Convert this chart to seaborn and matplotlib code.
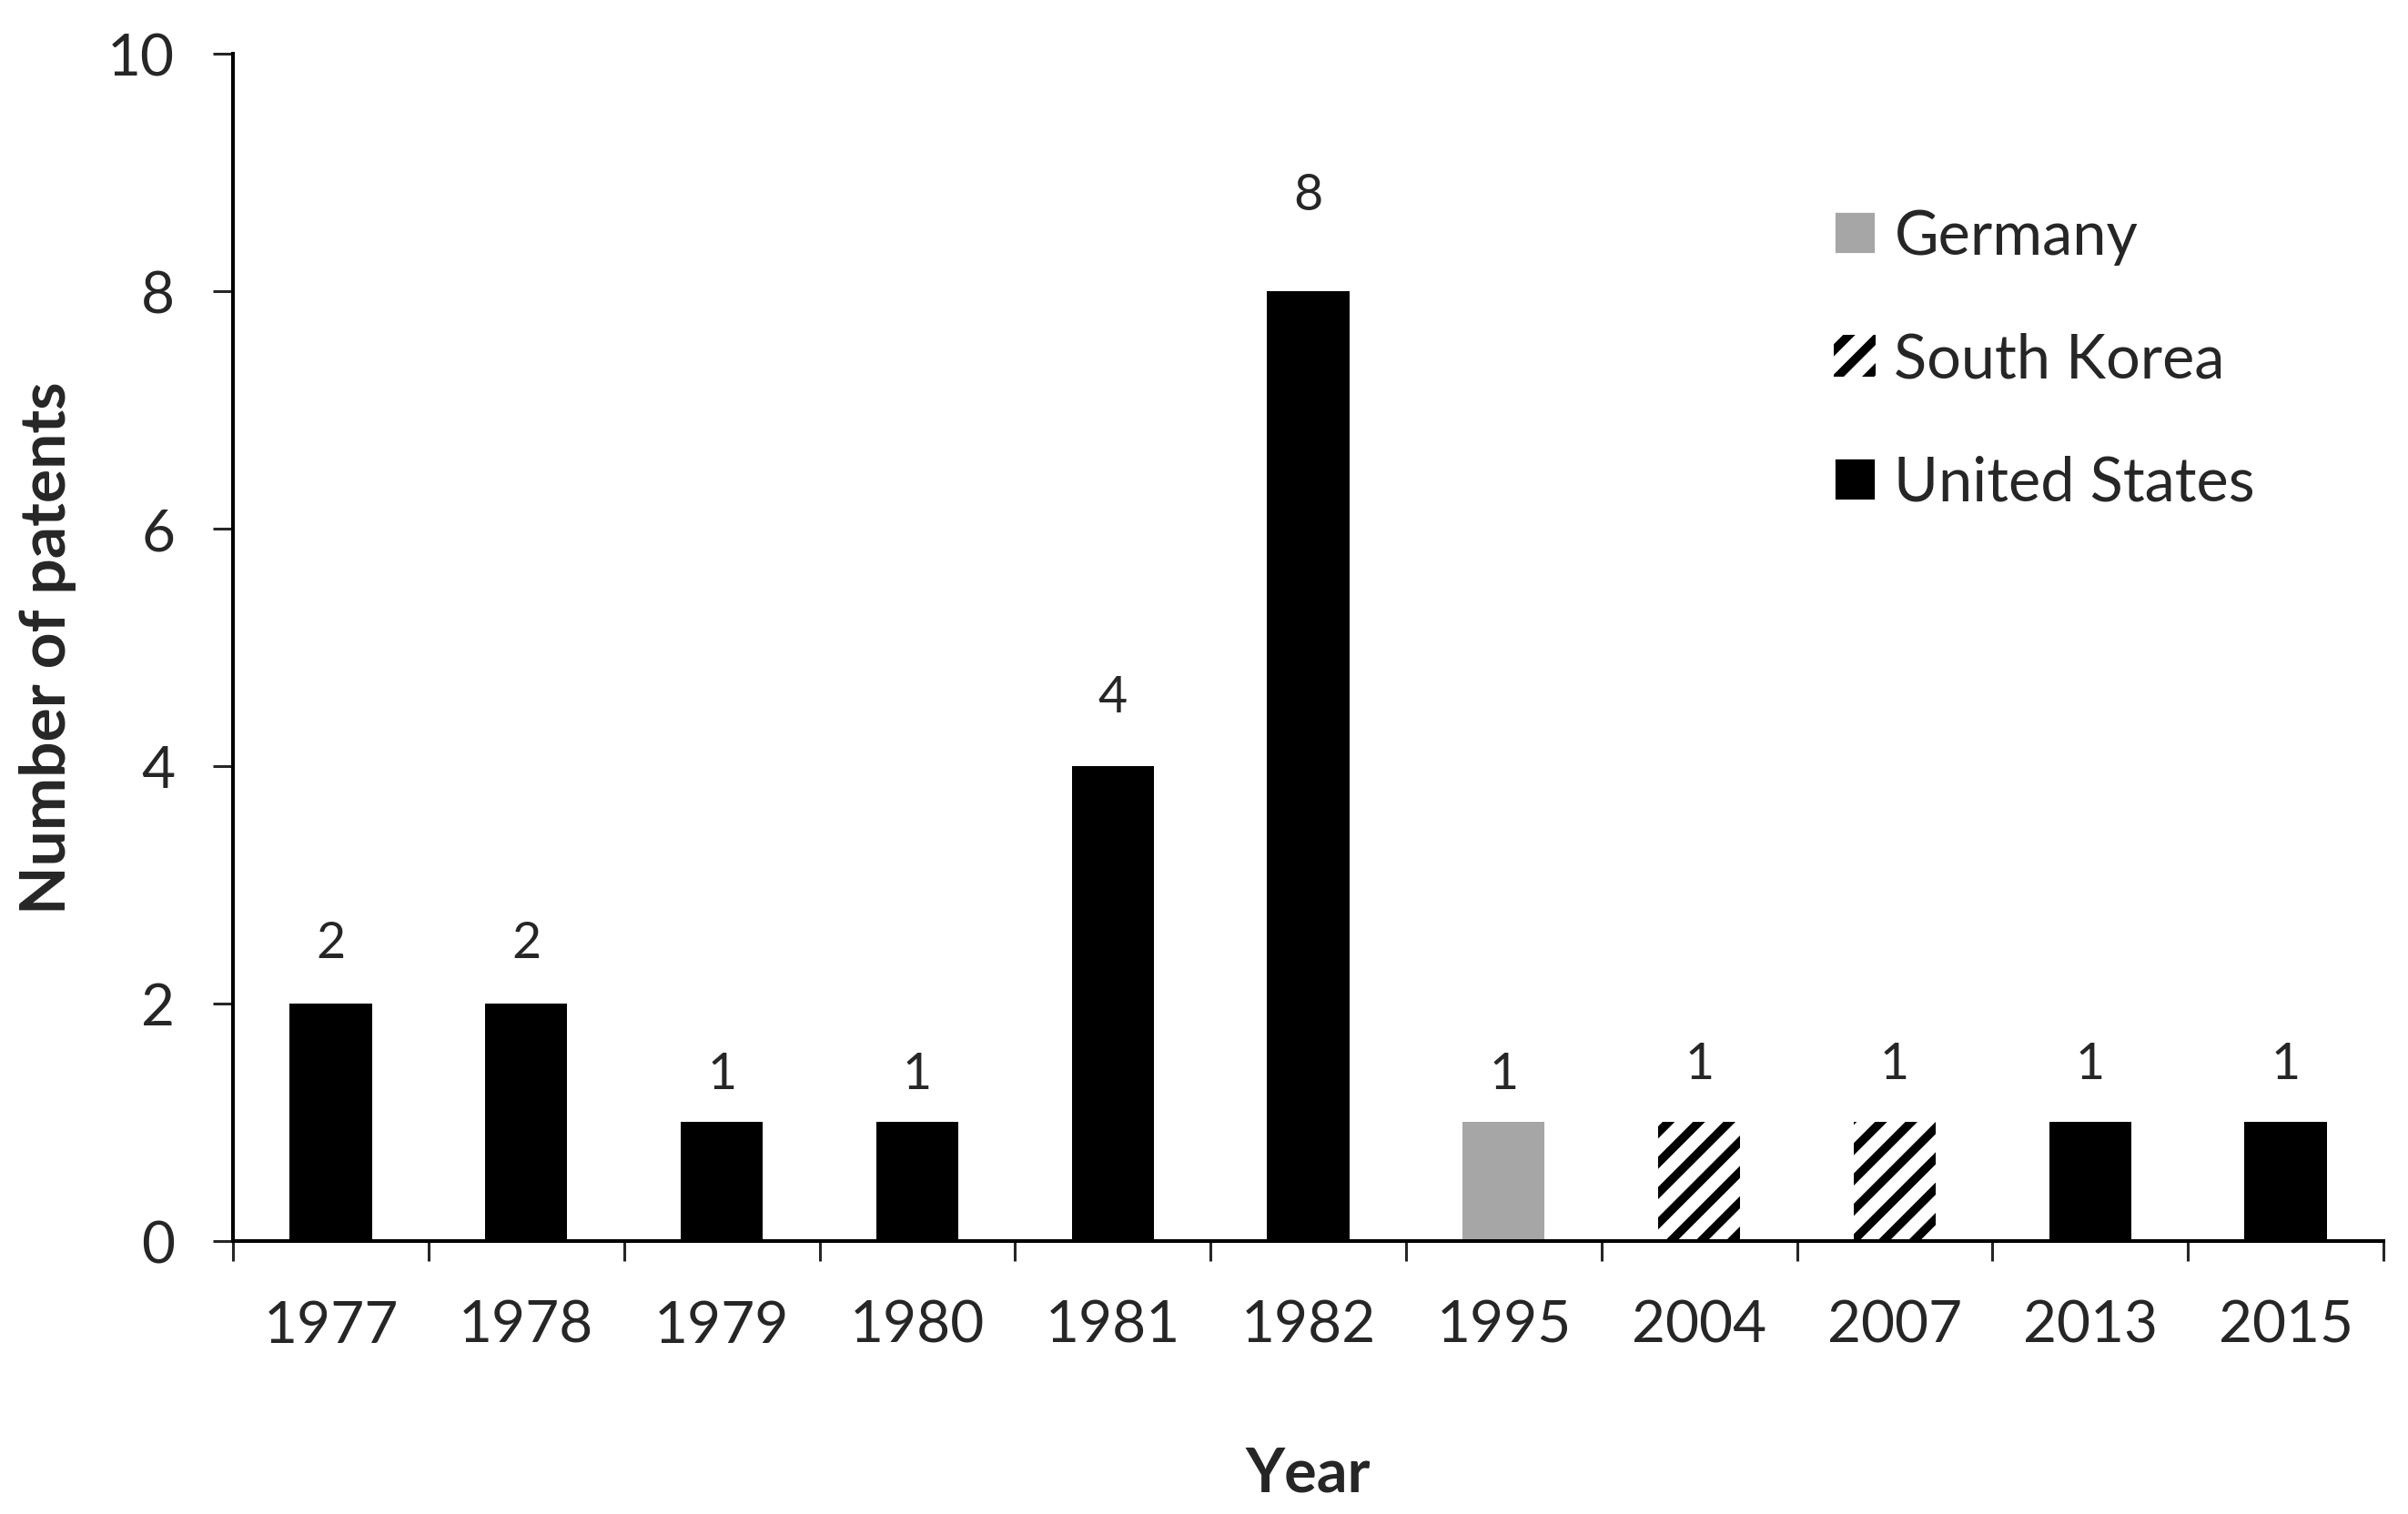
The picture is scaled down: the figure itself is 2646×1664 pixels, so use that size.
import numpy as np
import pandas as pd
import matplotlib
matplotlib.use("Agg")
import matplotlib.pyplot as plt
import matplotlib.patches as mpatches
from matplotlib.ticker import FixedLocator
import seaborn as sns

# data
years = ["1977", "1978", "1979", "1980", "1981", "1982", "1995", "2004", "2007", "2013", "2015"]
patents = [2, 2, 1, 1, 4, 8, 1, 1, 1, 1, 1]
country = ["United States", "United States", "United States", "United States", "United States",
           "United States", "Germany", "South Korea", "South Korea", "United States", "United States"]
countries = ["Germany", "South Korea", "United States"]

# label offsets above each bar (points), as placed in the original
label_offsets = [24, 24, 19, 19, 27, 38, 19, 23, 23, 23, 23]

df = pd.DataFrame({"Year": years, "Patents": patents, "Country": country})

sns.set_style("white")
plt.rcParams["font.family"] = ["Lato", "DejaVu Sans"]
plt.rcParams["hatch.linewidth"] = 3.4
plt.rcParams["hatch.color"] = "black"

colors = {"Germany": "#a6a6a6", "South Korea": "white", "United States": "black"}

fig = plt.figure(figsize=(13.23, 8.325), dpi=200)
ax = fig.add_axes([0.0968, 0.1802, 0.893, 0.784])

sns.barplot(data=df, x="Year", y="Patents", hue="Country", order=years,
            hue_order=countries, palette=colors, dodge=False, width=0.42,
            saturation=1, legend=False, ax=ax)

# hatch the South Korea bars
for bar, c in zip(sorted(ax.patches, key=lambda p: p.get_x()), country):
    bar.set_linewidth(0)
    if c == "South Korea":
        bar.set_facecolor("white")
        bar.set_hatch("//")
        bar.set_edgecolor("black")

# value labels
for i, (v, off) in enumerate(zip(patents, label_offsets)):
    ax.annotate(str(v), (i, v), xytext=(0, off), textcoords="offset points",
                ha="center", va="center", fontsize=20)

ax.set_ylim(0, 10)
ax.set_yticks(np.arange(0, 11, 2))
ax.set_xlim(-0.5, len(years) - 0.5)

# ticks between categories like Excel
ax.xaxis.set_minor_locator(FixedLocator(np.arange(-0.5, len(years), 1.0)))
ax.tick_params(axis="x", which="major", length=0, pad=23, labelsize=23)
ax.tick_params(axis="x", which="minor", length=8, width=1.1, direction="out", bottom=True)
ax.tick_params(axis="y", which="major", length=8, width=1.1, direction="out", left=True,
               pad=15, labelsize=23)

sns.despine(ax=ax)
for s in ["left", "bottom"]:
    ax.spines[s].set_linewidth(1.45)
    ax.spines[s].set_color("black")

ax.set_xlabel("Year", fontsize=24, fontweight="bold")
ax.set_ylabel("Number of patents", fontsize=25, fontweight="bold")
ax.xaxis.set_label_coords(0.5, -0.172, transform=ax.transAxes)
ax.yaxis.set_label_coords(-0.073, 0.5, transform=ax.transAxes)

handles = [mpatches.Patch(facecolor="#a6a6a6", label="Germany"),
           mpatches.Patch(facecolor="white", hatch="//", edgecolor="black", linewidth=0, label="South Korea"),
           mpatches.Patch(facecolor="black", label="United States")]
ax.legend(handles=handles, loc="upper left", bbox_to_anchor=(0.733, 0.89), frameon=False,
          fontsize=24, handlelength=0.7, handleheight=0.7, handletextpad=0.3,
          labelspacing=1.1, borderaxespad=0)

fig.savefig("out.png", dpi=200, facecolor="white")
